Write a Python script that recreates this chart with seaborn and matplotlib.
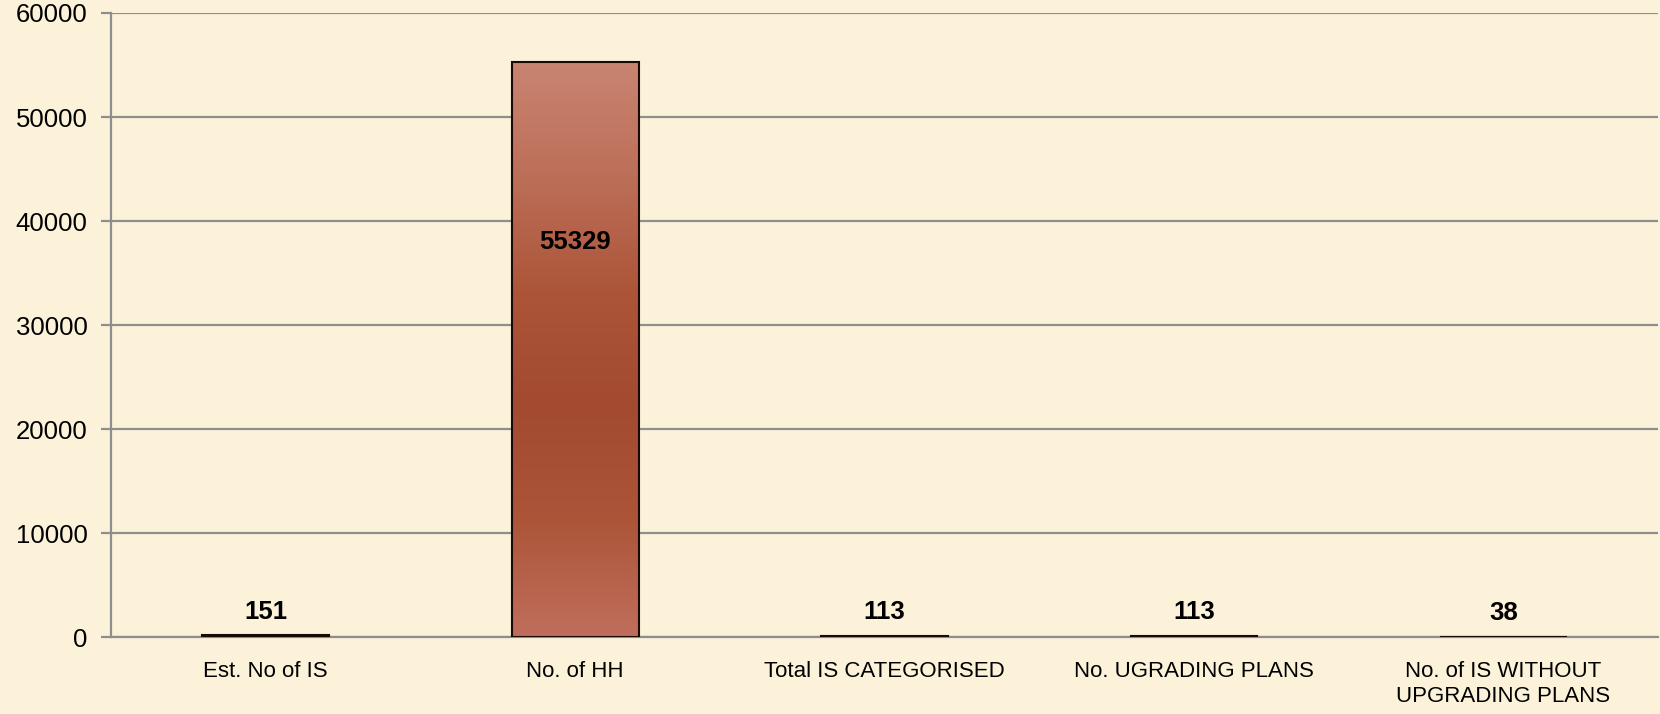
import numpy as np
import pandas as pd
import matplotlib
matplotlib.use("Agg")
import matplotlib.pyplot as plt
import seaborn as sns
from matplotlib.colors import LinearSegmentedColormap


# =========================================================
# DATA
# =========================================================

categories = [
    "Est. No of IS",
    "No. of HH",
    "Total IS CATEGORISED",
    "No. UGRADING PLANS",
    "No. of IS WITHOUT\nUPGRADING PLANS"
]

values = [151, 55329, 113, 113, 38]

y_ticks = [0, 10000, 20000, 30000, 40000, 50000, 60000]

df = pd.DataFrame({"category": categories, "value": values})


# =========================================================
# STYLE
# =========================================================

sns.set_theme(style="white")
plt.rcParams["font.family"] = ["Liberation Sans", "DejaVu Sans"]

bg = "#FBF2D9"
grid_col = "#8E8E8E"
bar_col = "#AC5539"

bar_cmap = LinearSegmentedColormap.from_list(
    "bar_grad",
    ["#C98472", "#BC6F58", "#AC5539", "#A34A30", "#AC5539", "#C06E5C"]
)


# =========================================================
# FIGURE
# =========================================================

fig = plt.figure(figsize=(16.6, 7.14), dpi=100)
fig.patch.set_facecolor(bg)

ax = fig.add_axes([0.0669, 0.1078, 0.932, 0.874])
ax.set_facecolor(bg)

sns.barplot(
    data=df,
    x="category",
    y="value",
    color=bar_col,
    width=0.41,
    edgecolor="#1a0a05",
    linewidth=1.5,
    saturation=1,
    ax=ax
)

ax.set_ylim(0, 60000)
ax.set_xlim(-0.5, len(categories) - 0.5)

# vertical gradient fill on each bar
grad = np.linspace(0, 1, 256).reshape(-1, 1)
for patch in ax.patches:
    x0, y0 = patch.get_x(), patch.get_y()
    w, h = patch.get_width(), patch.get_height()
    im = ax.imshow(
        grad, cmap=bar_cmap, aspect="auto",
        extent=[x0, x0 + w, y0, y0 + h], origin="upper", zorder=3
    )
    im.set_clip_path(patch)
    patch.set_facecolor("none")
    patch.set_zorder(3.1)

ax.set_ylim(0, 60000)
ax.set_xlim(-0.5, len(categories) - 0.5)

ax.set_yticks(y_ticks)
ax.set_yticklabels([str(t) for t in y_ticks], fontsize=18.5, color="black")

ax.yaxis.grid(True, color=grid_col, linewidth=1.6)
ax.set_axisbelow(True)

for side in ["top", "right"]:
    ax.spines[side].set_visible(False)
for side in ["left", "bottom"]:
    ax.spines[side].set_color(grid_col)
    ax.spines[side].set_linewidth(1.6)

ax.set_xticks(range(len(categories)))
ax.set_xticklabels(categories, fontsize=16, color="black", linespacing=1.3)
ax.set_xticks(np.arange(-0.5, len(categories), 1.0), minor=True)
ax.tick_params(axis="x", which="major", length=0, pad=17)
ax.tick_params(axis="x", which="minor", length=7, width=1.6,
               color=grid_col, direction="out")
ax.tick_params(axis="y", which="major", length=7, width=1.6,
               color=grid_col, direction="out", left=True, pad=10)

ax.set_xlabel("")
ax.set_ylabel("")


# =========================================================
# VALUE LABELS
# =========================================================

for i, v in enumerate(values):
    if v > 10000:
        offset = -130
    else:
        offset = 17
    ax.annotate(
        str(v), (i, v), xytext=(0, offset), textcoords="offset points",
        ha="center", va="center", fontsize=18.5, fontweight="bold",
        color="black", zorder=5
    )

plt.savefig("out.png", dpi=100, facecolor=bg)
plt.close()
